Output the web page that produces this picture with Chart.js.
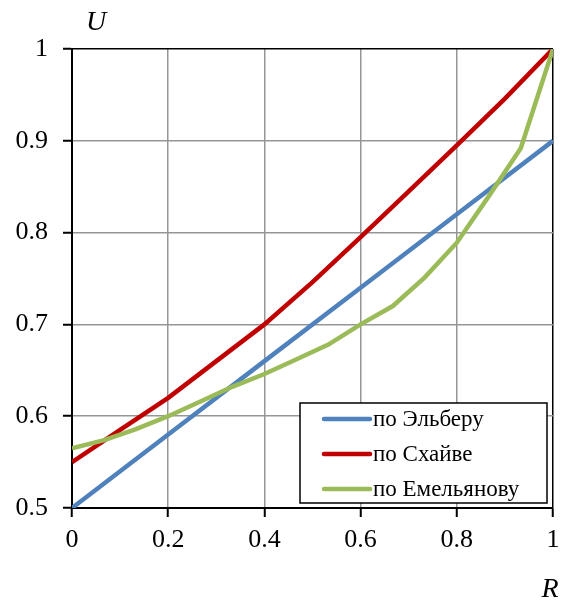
<!DOCTYPE html>
<html lang="ru">
<head>
<meta charset="UTF-8">
<title>U(R)</title>
<script src="https://cdn.jsdelivr.net/npm/chart.js"></script>
<style>
  body { margin: 0; background: #fff; }
  canvas { display: block; }
</style>
</head>
<body>
<canvas id="chart" width="563" height="605"></canvas>
<script>
// R values and U series
const rElber = [0, 0.2, 0.4, 0.6, 0.8, 1];
const uElber = [0.5, 0.58, 0.66, 0.74, 0.82, 0.9];

const rSchaive = [0, 0.1, 0.2, 0.3, 0.4, 0.5, 0.6, 0.7, 0.8, 0.9, 1];
const uSchaive = [0.55, 0.585, 0.62, 0.66, 0.70, 0.746, 0.795, 0.845, 0.895, 0.946, 1.0];

const rEmel = [0, 0.067, 0.133, 0.2, 0.267, 0.333, 0.4, 0.467, 0.533, 0.6, 0.667, 0.733, 0.8, 0.867, 0.933, 1];
const uEmel = [0.565, 0.574, 0.586, 0.6, 0.616, 0.632, 0.646, 0.662, 0.678, 0.70, 0.72, 0.751, 0.789, 0.84, 0.892, 1.0];

const xTicks = [0, 0.2, 0.4, 0.6, 0.8, 1];
const yTicks = [0.5, 0.6, 0.7, 0.8, 0.9, 1];

const labels = ['по Эльберу', 'по Схайве', 'по Емельянову'];
const colors = ['#4F81BD', '#C00000', '#9BBB59'];

const pts = (xs, ys) => xs.map((x, i) => ({ x: x, y: ys[i] }));

const serif = '"Liberation Serif", "Times New Roman", serif';

// legend box inside the plot + axis names
const extras = {
  id: 'extras',
  afterDraw(chart) {
    const ctx = chart.ctx;
    const a = chart.chartArea;
    ctx.save();

    const bx = a.right - 253, by = 403, bw = 247, bh = 100;
    ctx.fillStyle = '#fff';
    ctx.fillRect(bx, by, bw, bh);
    ctx.strokeStyle = '#000';
    ctx.lineWidth = 1.5;
    ctx.strokeRect(bx, by, bw, bh);

    ctx.font = '23px ' + serif;
    ctx.textBaseline = 'middle';
    ctx.textAlign = 'left';
    chart.data.datasets.forEach((ds, i) => {
      const y = by + 16 + i * 35;
      ctx.strokeStyle = ds.borderColor;
      ctx.lineWidth = 4.5;
      ctx.lineCap = 'round';
      ctx.beginPath();
      ctx.moveTo(bx + 24, y);
      ctx.lineTo(bx + 70, y);
      ctx.stroke();
      ctx.fillStyle = '#000';
      ctx.fillText(ds.label, bx + 73, y + 1);
    });

    ctx.font = 'italic 28px ' + serif;
    ctx.textAlign = 'center';
    ctx.fillText('U', 96, 23);
    ctx.fillText('R', 550, 590);
    ctx.restore();
  }
};

const gridColor = (max) => (c) => (c.tick && c.tick.value === max ? '#000' : '#969696');

new Chart(document.getElementById('chart'), {
  type: 'line',
  data: {
    datasets: [0, 1, 2].map(i => ({
      label: labels[i],
      data: [pts(rElber, uElber), pts(rSchaive, uSchaive), pts(rEmel, uEmel)][i],
      borderColor: colors[i],
      backgroundColor: colors[i],
      borderWidth: 4.5,
      pointRadius: 0,
      tension: 0,
      fill: false,
      order: 3 - i
    }))
  },
  plugins: [extras],
  options: {
    responsive: false,
    animation: false,
    layout: { padding: { top: 49, right: 10, left: 0, bottom: 0 } },
    plugins: { legend: { display: false }, tooltip: { enabled: false } },
    scales: {
      x: {
        type: 'linear',
        min: 0,
        max: 1,
        afterBuildTicks: s => { s.ticks = xTicks.map(v => ({ value: v })); },
        afterFit: s => { s.height = 97; s.paddingLeft = 0; s.paddingRight = 0; },
        ticks: {
          color: '#000',
          padding: 8,
          maxRotation: 0,
          font: { family: serif, size: 26 },
          callback: v => String(v)
        },
        grid: { color: gridColor(1), lineWidth: 1.5, tickLength: 9, tickColor: '#000', tickWidth: 2 },
        border: { color: '#000', width: 2 }
      },
      y: {
        min: 0.5,
        max: 1,
        afterBuildTicks: s => { s.ticks = yTicks.map(v => ({ value: v })); },
        afterFit: s => { s.width = 72; s.paddingTop = 0; s.paddingBottom = 0; },
        ticks: {
          color: '#000',
          padding: 15,
          font: { family: serif, size: 26 },
          callback: v => String(v)
        },
        grid: { color: gridColor(1), lineWidth: 1.5, tickLength: 9, tickColor: '#000', tickWidth: 2 },
        border: { color: '#000', width: 2 }
      }
    }
  }
});
</script>
</body>
</html>
